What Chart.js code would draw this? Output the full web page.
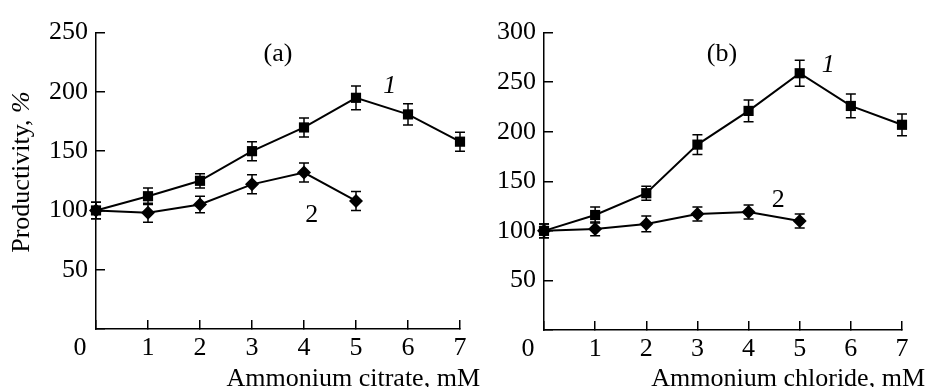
<!DOCTYPE html>
<html>
<head>
<meta charset="utf-8">
<script src="https://cdn.jsdelivr.net/npm/chart.js@4.4.0/dist/chart.umd.min.js"></script>
<style>
  html, body { margin: 0; padding: 0; background: #fff; }
  #wrap { position: relative; width: 937px; height: 387px; overflow: hidden; }
  canvas { position: absolute; top: 0; }
  #chartA { left: 0; }
  #chartB { left: 470px; }
</style>
</head>
<body>
<div id="wrap">
  <canvas id="chartA" width="485" height="387"></canvas>
  <canvas id="chartB" width="467" height="387"></canvas>
</div>
<script>
// concentrations, mM
const doses = [0, 1, 2, 3, 4, 5, 6, 7];

// (a) ammonium citrate
const citrate1 = [100, 112, 125, 150, 170, 195, 181, 158];
const citrate1Err = [7, 7, 6, 8, 8, 10, 9, 8];
const citrate2 = [100, 98, 105, 122, 132, 108];
const citrate2Err = [7, 8, 7, 8, 8, 8];

// (b) ammonium chloride
const chloride1 = [100, 116, 138, 187, 221, 259, 226, 207];
const chloride1Err = [7, 8, 7, 10, 11, 13, 12, 11];
const chloride2 = [100, 102, 107, 117, 119, 110];
const chloride2Err = [7, 7, 8, 7, 7, 7];

const yMaxA = 250;
const yMaxB = 300;
const yStep = 50;
const xMax = 7;

const SERIF = "'Liberation Serif', 'Times New Roman', serif";
Chart.defaults.font.family = SERIF;
Chart.defaults.font.size = 26;
Chart.defaults.color = "#000";

function toPoints(values) {
  return values.map((v, i) => ({ x: doses[i], y: v }));
}

// vertical error bars with caps, drawn through the chart scales
const errorBars = {
  id: "errorBars",
  beforeDatasetsDraw(chart) {
    const ctx = chart.ctx;
    const xs = chart.scales.x, ys = chart.scales.y;
    ctx.save();
    ctx.strokeStyle = "#000";
    ctx.lineWidth = 1.5;
    chart.data.datasets.forEach((ds) => {
      ds.data.forEach((p, i) => {
        const e = ds.errors[i];
        const px = xs.getPixelForValue(p.x);
        const top = ys.getPixelForValue(p.y + e);
        const bot = ys.getPixelForValue(p.y - e);
        ctx.beginPath();
        ctx.moveTo(px, top);
        ctx.lineTo(px, bot);
        ctx.moveTo(px - 5, top);
        ctx.lineTo(px + 5, top);
        ctx.moveTo(px - 5, bot);
        ctx.lineTo(px + 5, bot);
        ctx.stroke();
      });
    });
    ctx.restore();
  },
};

// panel letters, curve numbers, origin "0" and axis titles
const panelText = {
  id: "panelText",
  afterDraw(chart, args, opts) {
    const ctx = chart.ctx;
    const xs = chart.scales.x, ys = chart.scales.y;
    ctx.save();
    ctx.fillStyle = "#000";
    ctx.textAlign = "center";
    ctx.textBaseline = "middle";
    opts.labels.forEach((l) => {
      ctx.font = (l.italic ? "italic " : "") + "26px " + SERIF;
      ctx.fillText(l.text, xs.getPixelForValue(l.x), ys.getPixelForValue(l.y));
    });
    ctx.font = "26px " + SERIF;
    ctx.fillText("0", xs.getPixelForValue(0) - 16, xs.top + 19.5);
    ctx.textAlign = "right";
    ctx.textBaseline = "alphabetic";
    ctx.fillText(opts.xTitle, chart.width - opts.xTitleRight, 386);
    if (opts.yTitle) {
      ctx.translate(22, 172);
      ctx.rotate(-Math.PI / 2);
      ctx.textBaseline = "middle";
      ctx.font = "26px " + SERIF;
      const main = "Productivity, ";
      ctx.font = "italic 26px " + SERIF;
      const pw = ctx.measureText("%").width;
      ctx.font = "26px " + SERIF;
      const mw = ctx.measureText(main).width;
      const start = -(mw + pw) / 2;
      ctx.textAlign = "left";
      ctx.fillText(main, start, 0);
      ctx.font = "italic 26px " + SERIF;
      ctx.fillText("%", start + mw, 0);
    }
    ctx.restore();
  },
};

function makeChart(id, s1, e1, s2, e2, yMax, yWidth, rightPad, xHeight, labels, xTitle, xTitleRight, yTitle) {
  const lineStyle = {
    borderColor: "#000",
    backgroundColor: "#000",
    borderWidth: 2,
    pointBorderWidth: 0,
    pointHoverRadius: 7,
    fill: false,
    tension: 0,
    clip: false,
  };
  return new Chart(document.getElementById(id), {
    type: "line",
    data: {
      datasets: [
        Object.assign({}, lineStyle, {
          label: "1",
          data: toPoints(s1),
          errors: e1,
          pointStyle: "rect",
          pointRadius: 7.2,
        }),
        Object.assign({}, lineStyle, {
          label: "2",
          data: toPoints(s2),
          errors: e2,
          pointStyle: "rectRot",
          pointRadius: 7,
        }),
      ],
    },
    options: {
      responsive: false,
      animation: false,
      events: [],
      layout: { padding: { left: 0, top: 25, right: rightPad, bottom: 0 } },
      plugins: {
        legend: { display: false },
        tooltip: { enabled: false },
        panelText: { labels: labels, xTitle: xTitle, xTitleRight: xTitleRight, yTitle: yTitle },
      },
      scales: {
        x: {
          type: "linear",
          min: 0,
          max: xMax,
          afterFit: (s) => { s.height = xHeight; },
          border: { display: true, color: "#000", width: 1.5 },
          grid: { drawOnChartArea: false, drawTicks: true, tickLength: -9, color: "#000", lineWidth: 1.5 },
          ticks: {
            stepSize: 1,
            padding: 13,
            maxRotation: 0,
            autoSkip: false,
            callback: (v) => (v === 0 ? "" : v),
          },
        },
        y: {
          min: 0,
          max: yMax,
          afterFit: (s) => { s.width = yWidth; },
          border: { display: true, color: "#000", width: 1.5 },
          grid: { drawOnChartArea: false, drawTicks: true, tickLength: -9, color: "#000", lineWidth: 1.5 },
          ticks: {
            stepSize: yStep,
            padding: 17,
            callback: (v) => (v === 0 ? "" : v),
          },
        },
      },
    },
    plugins: [errorBars, panelText],
  });
}

makeChart("chartA", citrate1, citrate1Err, citrate2, citrate2Err, yMaxA, 96, 25, 58,
  [
    { text: "(a)", x: 3.5, y: 232 },
    { text: "1", x: 5.65, y: 205, italic: true },
    { text: "2", x: 4.15, y: 96 },
  ],
  "Ammonium citrate, mM", 5, true);

makeChart("chartB", chloride1, chloride1Err, chloride2, chloride2Err, yMaxB, 74, 35, 57,
  [
    { text: "(b)", x: 3.48, y: 278 },
    { text: "1", x: 5.56, y: 267, italic: true },
    { text: "2", x: 4.58, y: 131 },
  ],
  "Ammonium chloride, mM", 12, false);
</script>
</body>
</html>
